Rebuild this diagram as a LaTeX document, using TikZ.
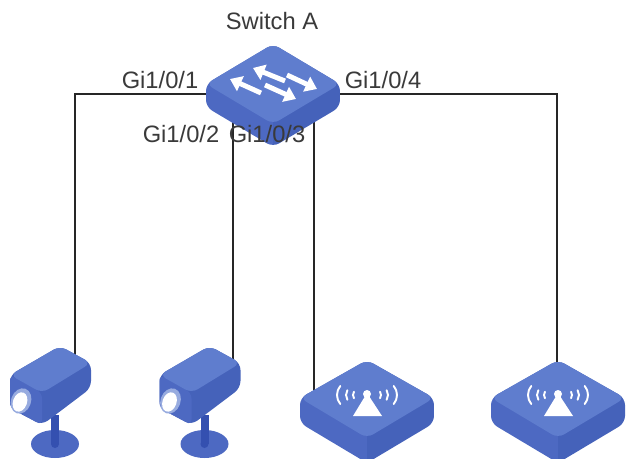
\documentclass[tikz,border=0pt]{standalone}
\usepackage{fontspec}
\setmainfont{Liberation Sans}
\usetikzlibrary{arrows.meta}
\definecolor{topblue}{HTML}{5F7DCE}
\definecolor{leftblue}{HTML}{4D69C2}
\definecolor{rightblue}{HTML}{4562BA}
\definecolor{standblue}{HTML}{3450B0}
\definecolor{labelgray}{HTML}{3A3A3A}
% flat box: half width, y of left/right corner, y of the near corner, height, y of the far corner
\newcommand{\slabbody}[5]{
  \begin{scope}
    \clip [rounded corners = 4pt] (-#1,#2) -- (0,#5) -- (#1,#2) -- (#1,#2+#4) -- (0,#3+#4) -- (-#1,#2+#4) -- cycle;
    \fill [leftblue] (-#1-1,#5-1) rectangle (0,#3+#4+1);
    \fill [rightblue] (0,#5-1) rectangle (#1+1,#3+#4+1);
  \end{scope}
  \fill [topblue, rounded corners = 4pt] (0,#5) -- (#1,#2) -- (0,#3) -- (-#1,#2) -- cycle;
}
\tikzset{
  link/.style = {draw = black!85, line width = 1.5pt},
  portlabel/.style = {text = labelgray, inner sep = 0pt, font = \fontsize{13.5}{16}\selectfont},
  whitearrow/.style = {white, line width = 2.8pt, -{Triangle[length = 6.5pt, width = 9pt]}},
  waves/.style = {white, line width = 1.1pt, line cap = round},
  switchicon/.pic = {
    \slabbody{67}{-10}{30}{23}{-50}
    \draw [whitearrow] (12,-13) -- (-20,-26);
    \draw [whitearrow] (14,-19) -- (44,-5);
    \draw [whitearrow] (-12,-1) -- (-43,-15);
    \draw [whitearrow] (-8,-9) -- (23,5);
  },
  camicon/.pic = {
    \fill [leftblue] (0,84) ellipse [x radius = 24, y radius = 14];
    \fill [standblue] (-4,55) rectangle (4,84);
    \fill [standblue] (0,84) circle [radius = 4];
    \fill [rightblue, rounded corners = 4pt] (5,-14) -- (36,3) -- (36,28) -- (-13,65) -- (-45,48) -- (-45,15) -- cycle;
    \fill [leftblue, rounded corners = 3pt] (-45,15) -- (-13,33) -- (-13,65) -- (-45,48) -- cycle;
    \fill [topblue, rounded corners = 4pt] (5,-14) -- (36,3) -- (-13,33) -- (-45,15) -- cycle;
    \fill [topblue!65!white, rotate around = {-20:(-34,41)}] (-34,41) ellipse [x radius = 10, y radius = 13];
    \fill [white, rotate around = {-20:(-35,42)}] (-35,42) ellipse [x radius = 7, y radius = 10];
  },
  apicon/.pic = {
    \slabbody{67}{38}{78}{25}{0}
    \fill [white] (0,33) -- (15,56) -- (-14,56) -- cycle;
    \fill [white] (0,34) circle [radius = 4];
    \foreach \d/\r/\a in {8/6/33, 12/9/32, 16/14/40} {
      \draw [waves] (-\d,35) ++ (180-\a:\r) arc [start angle = 180-\a, end angle = 180+\a, radius = \r];
      \draw [waves] (\d,35) ++ (\a:\r) arc [start angle = \a, end angle = -\a, radius = \r];
    }
  }
}
\begin{document}
\begin{tikzpicture}[x = 0.02cm, y = -0.02cm]
  \clip (0,0) rectangle (629,459);
  % anchors of the four links
  \coordinate (switchA) at (273,94);
  \coordinate (portB) at (233,110);
  \coordinate (portC) at (314,100);
  \coordinate (camA) at (75,370);
  \coordinate (camB) at (233,370);
  \coordinate (apA) at (314,400);
  \coordinate (apB) at (557,400);
  % links first, icons go on top
  \draw [link] (switchA) -| (camA);
  \draw [link] (portB) -- (camB);
  \draw [link] (portC) -- (apA);
  \draw [link] (switchA) -| (apB);
  \pic at (273,94) {switchicon};
  \foreach \x in {55, 204.5} {
    \pic at (\x,360) {camicon};
  }
  \foreach \x in {367, 558} {
    \pic at (\x,360) {apicon};
  }
  \node [portlabel] (nameA) at (272,21) {Switch A};
  \node [portlabel] (gi1) at (160,80) {Gi1/0/1};
  \node [portlabel] (gi2) at (181,134) {Gi1/0/2};
  \node [portlabel] (gi3) at (267,134) {Gi1/0/3};
  \node [portlabel] (gi4) at (383,80) {Gi1/0/4};
\end{tikzpicture}
\end{document}
